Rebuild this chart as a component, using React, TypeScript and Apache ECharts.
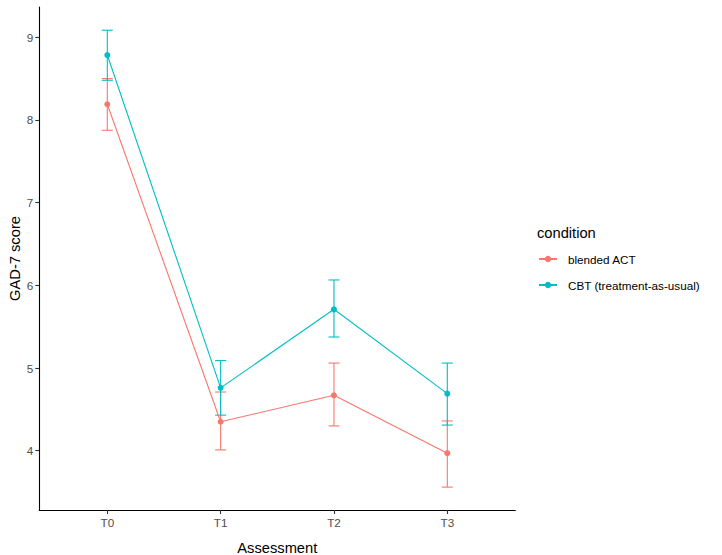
import React, { useEffect, useRef } from "react";
import * as echarts from "echarts";

const categories = ["T0", "T1", "T2", "T3"];
const seriesNames = ["blended ACT", "CBT (treatment-as-usual)"];
const actMean = [8.19, 4.35, 4.67, 3.97];
const actLow = [7.875, 4.01, 4.3, 3.56];
const actHigh = [8.5, 4.71, 5.06, 4.36];
const cbtMean = [8.785, 4.76, 5.71, 4.69];
const cbtLow = [8.48, 4.43, 5.375, 4.31];
const cbtHigh = [9.085, 5.09, 6.065, 5.06];
const yTicks = [4, 5, 6, 7, 8, 9];
const colors = ["#F8766D", "#00BFC4"];

const FONT = "Liberation Sans, Arial, sans-serif";

function errorSeries(name: string, color: string, low: number[], high: number[]) {
  return {
    type: "custom",
    name: name + " (error)",
    itemStyle: { color },
    data: categories.map((_, i) => [i, low[i], high[i]]),
    renderItem: (params: any, api: any) => {
      const x = api.value(0);
      const lo = api.coord([x, api.value(1)]);
      const hi = api.coord([x, api.value(2)]);
      const hw = 5.5;
      const style = { stroke: color, lineWidth: 1.1 };
      return {
        type: "group",
        children: [
          { type: "line", shape: { x1: lo[0], y1: lo[1], x2: hi[0], y2: hi[1] }, style },
          { type: "line", shape: { x1: lo[0] - hw, y1: lo[1], x2: lo[0] + hw, y2: lo[1] }, style },
          { type: "line", shape: { x1: hi[0] - hw, y1: hi[1], x2: hi[0] + hw, y2: hi[1] }, style },
        ],
      };
    },
    z: 2,
  };
}

function lineSeries(name: string, color: string, mean: number[]) {
  return {
    type: "line",
    name,
    color,
    data: categories.map((_, i) => [i, mean[i]]),
    symbol: "circle",
    symbolSize: 6,
    itemStyle: { color },
    lineStyle: { color, width: 1.1 },
    z: 3,
  };
}

export default function App() {
  const ref = useRef<HTMLDivElement>(null);
  useEffect(() => {
    const chart = echarts.init(ref.current!, null, { renderer: "svg" });
    chart.setOption({
      animation: false,
      backgroundColor: "#fff",
      textStyle: { fontFamily: FONT },
      grid: { left: 39.3, right: 206.7, top: 7, bottom: 45, containLabel: false, outerBoundsMode: "none" },
      xAxis: {
        type: "value",
        min: -0.6,
        max: 3.6,
        splitLine: { show: false },
        axisLine: { onZero: false, lineStyle: { color: "#000", width: 1.1 } },
        axisTick: { customValues: [0, 1, 2, 3], length: 4, lineStyle: { color: "#333", width: 1.1 } },
        axisLabel: {
          customValues: [0, 1, 2, 3],
          formatter: (v: number) => categories[Math.round(v)] ?? "",
          color: "#4D4D4D",
          fontSize: 11.7,
          fontFamily: FONT,
          margin: 6,
        },
        name: "Assessment",
        nameLocation: "middle",
        nameGap: 30,
        nameMoveOverlap: false,
        nameTextStyle: { color: "#000", fontSize: 14.7, fontFamily: FONT },
      },
      yAxis: {
        type: "value",
        min: 3.283,
        max: 9.366,
        splitLine: { show: false },
        axisLine: { show: true, onZero: false, lineStyle: { color: "#000", width: 1.1 } },
        axisTick: { show: true, customValues: yTicks, length: 4, lineStyle: { color: "#333", width: 1.1 } },
        axisLabel: {
          customValues: yTicks,
          color: "#4D4D4D",
          fontSize: 11.7,
          fontFamily: FONT,
          margin: 6,
        },
        name: "GAD-7 score",
        nameLocation: "middle",
        nameGap: 17,
        nameMoveOverlap: false,
        nameTextStyle: { color: "#000", fontSize: 14.7, fontFamily: FONT },
      },
      legend: {
        orient: "vertical",
        left: 533,
        top: 248,
        itemWidth: 18,
        itemHeight: 8,
        itemGap: 14,
        data: seriesNames,
        textStyle: { color: "#000", fontSize: 11.7, fontFamily: FONT, padding: [0, 0, 0, 6] },
      },
      graphic: [
        {
          type: "text",
          left: 537,
          top: 225,
          style: { text: "condition", fontSize: 14.7, fontFamily: FONT, fill: "#000" },
        },
      ],
      series: [
        errorSeries(seriesNames[0], colors[0], actLow, actHigh),
        errorSeries(seriesNames[1], colors[1], cbtLow, cbtHigh),
        lineSeries(seriesNames[0], colors[0], actMean),
        lineSeries(seriesNames[1], colors[1], cbtMean),
      ],
    });
    return () => chart.dispose();
  }, []);
  return <div ref={ref} style={{ width: 722, height: 555, position: "absolute", left: 0, top: 0 }} />;
}
